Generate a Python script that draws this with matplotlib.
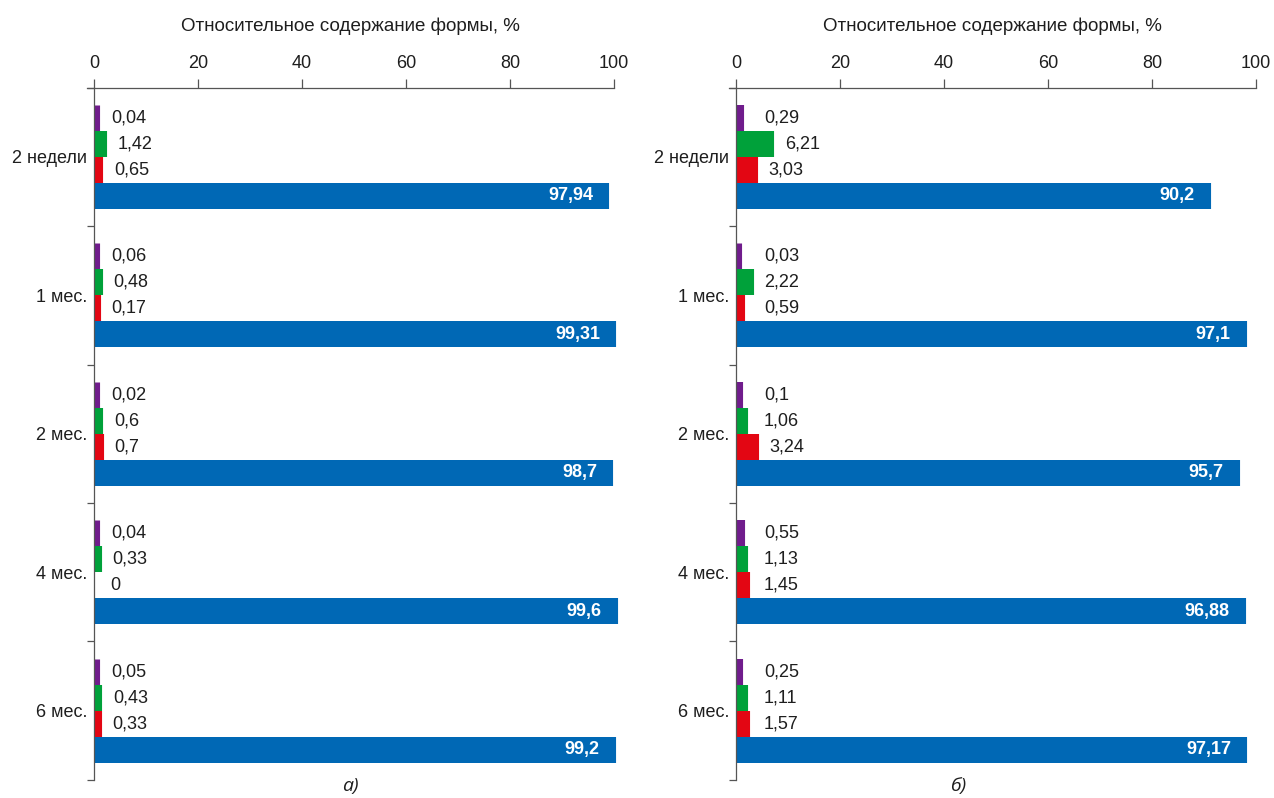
import matplotlib
matplotlib.use('Agg')
import matplotlib.pyplot as plt
import matplotlib.patches as mpatches
import numpy as np

plt.rcParams['font.family'] = ['Liberation Sans', 'DejaVu Sans']

categories = ['2 недели', '1 мес.', '2 мес.', '4 мес.', '6 мес.']

# panel а)
a_purple = [0.04, 0.06, 0.02, 0.04, 0.05]
a_green = [1.42, 0.48, 0.6, 0.33, 0.43]
a_red = [0.65, 0.17, 0.7, 0, 0.33]
a_blue = [97.94, 99.31, 98.7, 99.6, 99.2]

# panel б)
b_purple = [0.29, 0.03, 0.1, 0.55, 0.25]
b_green = [6.21, 2.22, 1.06, 1.13, 1.11]
b_red = [3.03, 0.59, 3.24, 1.45, 1.57]
b_blue = [90.2, 97.1, 95.7, 96.88, 97.17]

colors = ['#701c8c', '#00a13a', '#e30613', '#0068b5']
text_col = '#1e1e1e'
axis_col = '#555555'
xlabel = 'Относительное содержание формы, %'


def fmt(v):
    return f'{v:g}'.replace('.', ',')


def draw_panel(ax, series, label_min):
    y = np.arange(len(categories))
    h = 0.1877
    for i, vals in enumerate(series):
        pos = y + (i - 1.5) * h
        bars = ax.barh(pos, vals, height=h, color=colors[i], edgecolor=colors[i],
                       linewidth=8, zorder=2)
        for b, v, p in zip(bars, vals, pos):
            # the edge only pokes out at the right end, like in the original
            clip = mpatches.Rectangle((0, p - h / 2), 200, h, transform=ax.transData)
            b.set_clip_path(clip)
            if v == 0:
                b.set_linewidth(0)
            if i == 3:
                ax.annotate(fmt(v), (v, p), xytext=(-7.5, 0), textcoords='offset points',
                            ha='right', va='center', color='white', fontsize=13,
                            fontweight='bold')
            else:
                ax.annotate(fmt(v), (max(v, label_min), p), xytext=(12, 0),
                            textcoords='offset points', ha='left', va='center',
                            color=text_col, fontsize=13)

    ax.set_xlim(-1.35, 100)
    ax.set_ylim(len(categories) - 0.5, -0.5)
    ax.xaxis.tick_top()
    ax.xaxis.set_label_position('top')
    ax.set_xticks([0, 20, 40, 60, 80, 100])
    ax.tick_params(axis='x', direction='out', length=6.5, width=0.9, colors=axis_col,
                   labelcolor=text_col, labelsize=13, pad=5)
    ax.set_xlabel(xlabel, fontsize=13.5, color=text_col, labelpad=17)

    ax.set_yticks(y)
    ax.set_yticklabels(categories)
    ax.set_yticks(np.arange(len(categories) + 1) - 0.5, minor=True)
    ax.tick_params(axis='y', which='major', length=0, pad=5, labelsize=13,
                   labelcolor=text_col)
    ax.tick_params(axis='y', which='minor', length=5, width=0.9, colors=axis_col,
                   direction='out')

    ax.spines['left'].set_position(('data', 0))
    for s in ['right', 'bottom']:
        ax.spines[s].set_visible(False)
    for s in ['left', 'top']:
        ax.spines[s].set_color(axis_col)
        ax.spines[s].set_linewidth(0.9)
        ax.spines[s].set_zorder(3)


fig = plt.figure(figsize=(12.74, 7.98), dpi=100)
ax1 = fig.add_axes([0.0683, 0.0226, 0.4137, 0.8676])
ax2 = fig.add_axes([0.5722, 0.0226, 0.4137, 0.8676])

draw_panel(ax1, [a_purple, a_green, a_red, a_blue], 0)
draw_panel(ax2, [b_purple, b_green, b_red, b_blue], 2.2)

fig.text(0.275, 0.015, 'а)', ha='center', va='center', fontsize=14, style='italic',
         color=text_col, family=['Open Sans', 'DejaVu Sans'])
fig.text(0.752, 0.015, 'б)', ha='center', va='center', fontsize=14, style='italic',
         color=text_col, family=['Open Sans', 'DejaVu Sans'])

fig.savefig('out.png', dpi=100)
